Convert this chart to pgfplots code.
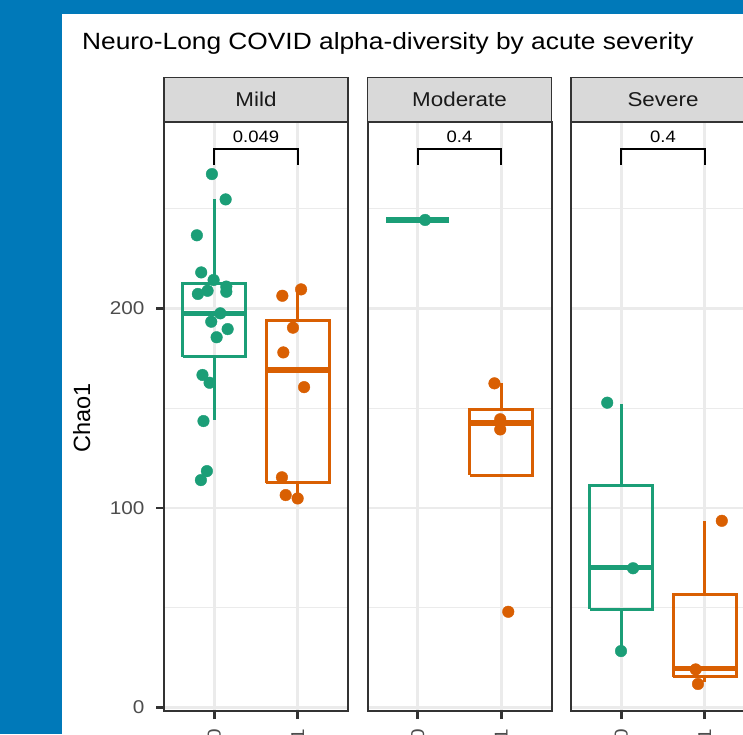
\documentclass[border=0pt]{standalone}
\usepackage{fontspec}
\setmainfont{Liberation Sans}[FakeStretch=1.12]
\newfontfamily\plainsans{Liberation Sans}
\usepackage{pgfplots}
\pgfplotsset{compat=1.18}
\definecolor{bgblue}{HTML}{0079B9}
\definecolor{dgreen}{HTML}{1B9E77}
\definecolor{dorange}{HTML}{D95F02}
\definecolor{grey20}{HTML}{333333}
\definecolor{grey30}{HTML}{4D4D4D}
\definecolor{grey85}{HTML}{D9D9D9}
\definecolor{grey92}{HTML}{EBEBEB}
\definecolor{grey10}{HTML}{1A1A1A}

\pgfplotsset{
  panel/.style={
    scale only axis, width=184pt, height=589pt, anchor=south west,
    xmin=-0.6, xmax=1.6, ymin=-1.75, ymax=293.5,
    xtick={0,1}, xticklabels={0,1},
    ytick={0,100,200}, minor ytick={50,150,250},
    grid=both,
    major grid style={grey92, line width=2.8pt},
    minor grid style={grey92, line width=1.4pt},
    axis line style={grey20, line width=2pt},
    tick align=outside, tick pos=left,
    tick style={grey20, line width=2.7pt},
    major tick length=8pt, minor tick length=0pt,
    tick label style={font=\fontsize{18.5}{18.5}\selectfont, text=grey30},
    /pgf/number format/assume math mode=true,
    xticklabel style={rotate=90, anchor=east, xshift=-6pt},
    yticklabel style={xshift=-8pt},
    every axis title/.style={at={(0.5,1)}, anchor=south, fill=grey85, draw=grey20,
      line width=1.5pt, minimum width=184pt, minimum height=44pt, inner sep=0pt,
      text=grey10, font=\fontsize{20}{20}\selectfont},
  },
  bx/.style={line width=3pt, mark=none},
  md/.style={line width=5.5pt, mark=none},
  pts/.style={only marks, mark=*, mark size=5.8pt, mark options={draw=none}},
  brk/.style={black, line width=1.7pt, mark=none},
}

\begin{document}
\begin{tikzpicture}
\begin{scope}
\clip (0pt,0pt) rectangle (743pt,-734pt);
\fill[bgblue] (0pt,0pt) rectangle (743pt,-734pt);
\fill[white] (62pt,-14pt) rectangle (743pt,-734pt);
\node[anchor=base west, inner sep=0pt, font=\fontsize{23.5}{24}\selectfont] at (82pt,-49.5pt)
  {Neuro-Long COVID alpha-diversity by acute severity};
\node[rotate=90, anchor=base, inner sep=0pt, font=\plainsans\fontsize{23.5}{24}\selectfont] at (90pt,-418pt) {Chao1};

% Mild
\begin{axis}[panel, at={(164pt,-711pt)}, title={Mild}]
% group 0: box, whiskers, median
\addplot[dgreen, bx] coordinates {(-0.375,175.8) (0.375,175.8) (0.375,212.3) (-0.375,212.3) (-0.375,175.8)};
\addplot[dgreen, bx] coordinates {(0,212.3) (0,254.7)};
\addplot[dgreen, bx] coordinates {(0,175.8) (0,144.1)};
\addplot[dgreen, md] coordinates {(-0.375,197.6) (0.375,197.6)};
% group 1
\addplot[dorange, bx] coordinates {(0.625,112.7) (1.375,112.7) (1.375,194.2) (0.625,194.2) (0.625,112.7)};
\addplot[dorange, bx] coordinates {(1,194.2) (1,209.6)};
\addplot[dorange, bx] coordinates {(1,112.7) (1,104.9)};
\addplot[dorange, md] coordinates {(0.625,169.2) (1.375,169.2)};
\addplot[pts, dgreen] coordinates {
  (-0.027,267.4) (0.137,254.7) (-0.207,236.7) (-0.155,218.1) (-0.007,214.3)
  (-0.079,208.9) (-0.195,207.3) (0.145,208.4) (0.145,211.0) (0.073,197.6)
  (-0.035,193.4) (0.161,189.7) (0.029,185.6) (-0.140,166.7) (-0.055,162.8)
  (-0.128,143.6) (-0.087,118.5) (-0.159,114.0)};
\addplot[pts, dorange] coordinates {
  (0.815,206.4) (1.039,209.6) (0.942,190.4) (0.827,178.0) (1.075,160.6)
  (0.810,115.4) (0.855,106.5) (0.998,104.8)};
\addplot[brk] coordinates {(0,272) (0,280) (1,280) (1,272)};
\node[anchor=base, inner sep=0pt, font=\fontsize{16.5}{17}\selectfont] at (axis cs:0.5,283) {0.049};
\end{axis}

% Moderate
\begin{axis}[panel, at={(367.5pt,-711pt)}, title={Moderate}, yticklabels={}, ytick style={draw=none}]
\addplot[dgreen, md] coordinates {(-0.375,244.4) (0.375,244.4)};
\addplot[dorange, bx] coordinates {(0.625,116.5) (1.375,116.5) (1.375,149.5) (0.625,149.5) (0.625,116.5)};
\addplot[dorange, bx] coordinates {(1,149.5) (1,162.5)};
\addplot[dorange, md] coordinates {(0.625,142.5) (1.375,142.5)};
\addplot[pts, dgreen] coordinates {(0.089,244.4)};
\addplot[pts, dorange] coordinates {(0.918,162.5) (0.987,144.5) (0.987,139.4) (1.083,48.0)};
\addplot[brk] coordinates {(0,272) (0,280) (1,280) (1,272)};
\node[anchor=base, inner sep=0pt, font=\fontsize{16.5}{17}\selectfont] at (axis cs:0.5,283) {0.4};
\end{axis}

% Severe
\begin{axis}[panel, at={(571pt,-711pt)}, title={Severe}, yticklabels={}, ytick style={draw=none}]
\addplot[dgreen, bx] coordinates {(-0.375,49.2) (0.375,49.2) (0.375,111.2) (-0.375,111.2) (-0.375,49.2)};
\addplot[dgreen, bx] coordinates {(0,111.2) (0,152.1)};
\addplot[dgreen, bx] coordinates {(0,49.2) (0,28.3)};
\addplot[dgreen, md] coordinates {(-0.375,70.1) (0.375,70.1)};
\addplot[dorange, bx] coordinates {(0.625,15.4) (1.375,15.4) (1.375,56.7) (0.625,56.7) (0.625,15.4)};
\addplot[dorange, bx] coordinates {(1,56.7) (1,93.6)};
\addplot[dorange, bx] coordinates {(1,15.4) (1,12.9)};
\addplot[dorange, md] coordinates {(0.625,19.6) (1.375,19.6)};
\addplot[pts, dgreen] coordinates {(-0.167,152.8) (0.142,69.8) (-0.002,28.3)};
\addplot[pts, dorange] coordinates {(1.203,93.6) (0.891,19.1) (0.918,11.8)};
\addplot[brk] coordinates {(0,272) (0,280) (1,280) (1,272)};
\node[anchor=base, inner sep=0pt, font=\fontsize{16.5}{17}\selectfont] at (axis cs:0.5,283) {0.4};
\end{axis}
\end{scope}
\pgfresetboundingbox
\path[use as bounding box] (0pt,0pt) rectangle (743pt,-734pt);
\end{tikzpicture}
\end{document}
